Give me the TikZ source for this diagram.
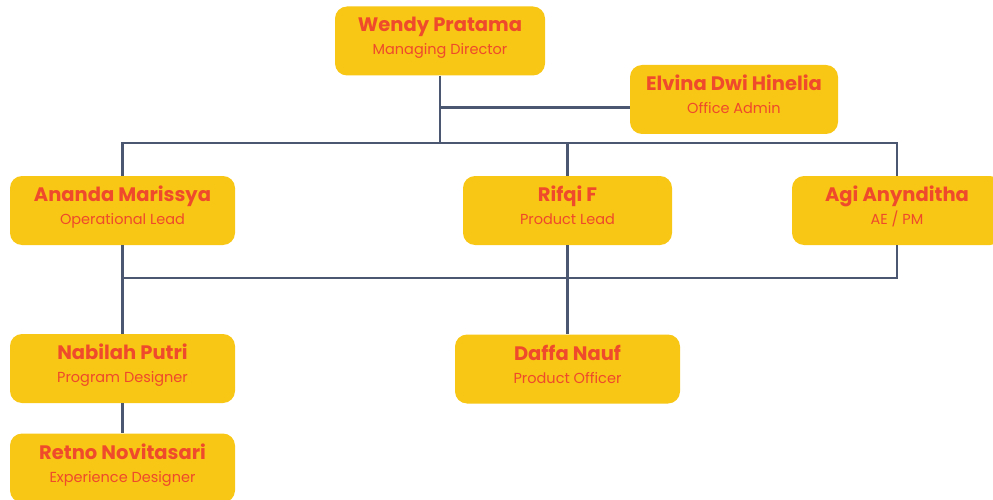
\documentclass[tikz,border=0pt]{standalone}
\usepackage{fontspec}
\setmainfont{Poppins}
\usetikzlibrary{calc}
\usetikzlibrary{positioning}
\definecolor{boxYellow}{HTML}{F8C615}
\definecolor{nameRed}{HTML}{EE4A2B}
\definecolor{lineSlate}{HTML}{4B5670}
\newcommand{\personName}[1]{{\fontsize{19.5}{23}\selectfont\bfseries\vphantom{Ay}#1}}
\newcommand{\personRole}[1]{{\fontsize{14.5}{23}\selectfont\vphantom{Ay}\rule[-10pt]{0pt}{1pt}#1}}
\tikzset{
  orgBox/.style={%
    rectangle, rounded corners=12pt, fill=boxYellow, text=nameRed,
    minimum width=225pt, minimum height=69pt, align=center, inner sep=2pt,
    font=\fontsize{14.5}{23}\selectfont,
  },
  orgLine/.style={%
    draw=lineSlate, line width=2.6pt,
  }
}
\begin{document}
\begin{tikzpicture}[x=1pt,y=-1pt]
  \useasboundingbox (0,0) rectangle (993,500);
  % people
  \node[orgBox,minimum width=210pt] (wendy) at (440,41) {\personName{Wendy Pratama}\\\personRole{Managing Director}};
  \node[orgBox,minimum width=208pt] (elvina) at (734,99.5) {\personName{Elvina Dwi Hinelia}\\\personRole{Office Admin}};
  \node[orgBox] (ananda) at (122.5,210.5) {\personName{Ananda Marissya}\\\personRole{Operational Lead}};
  \node[orgBox,minimum width=209pt] (rifqi) at (567.5,210.5) {\personName{Rifqi F}\\\personRole{Product Lead}};
  \node[orgBox,minimum width=210pt] (agi) at (897,210.5) {\personName{Agi Anynditha}\\\personRole{AE / PM}};
  \node[orgBox] (nabilah) at (122.5,368.5) {\personName{Nabilah Putri}\\\personRole{Program Designer}};
  \node[orgBox] (daffa) at (567.5,369) {\personName{Daffa Nauf}\\\personRole{Product Officer}};
  \node[orgBox] (retno) at (122.5,468) {\personName{Retno Novitasari}\\\personRole{Experience Designer}};
  % bus levels
  \coordinate (busTop) at (0,143);
  \coordinate (busMid) at (0,278);
  % connectors
  \draw[orgLine] (wendy.south) -- (wendy.south |- busTop);
  \draw[orgLine] ([yshift=-8pt]elvina.west) -- ([yshift=-8pt]elvina.west -| wendy.south);
  \draw[orgLine] (ananda.north) -- (ananda.north |- busTop) -| (agi.north);
  \draw[orgLine] (rifqi.north) -- (rifqi.north |- busTop);
  \draw[orgLine] (ananda.south) -- (nabilah.north);
  \draw[orgLine] (agi.south) -- (agi.south |- busMid) -| (ananda.south);
  \draw[orgLine] (rifqi.south) -- (daffa.north);
  \draw[orgLine] (nabilah.south) -- (retno.north);
\end{tikzpicture}
\end{document}
